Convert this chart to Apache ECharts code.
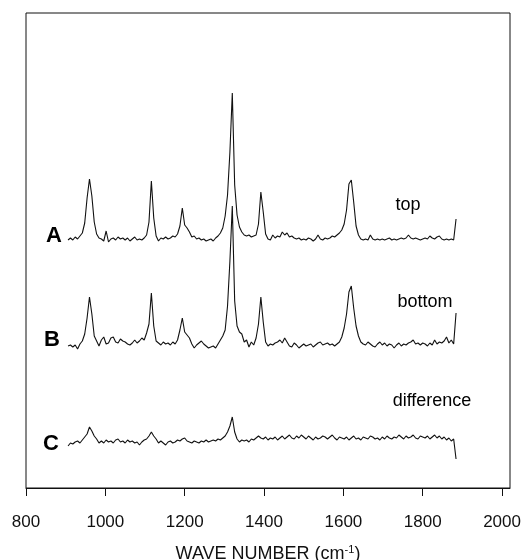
<!DOCTYPE html>
<html>
<head>
<meta charset="utf-8">
<script src="https://cdn.jsdelivr.net/npm/echarts@6/dist/echarts.min.js"></script>
<style>html,body{margin:0;padding:0;background:#fff;}#chart{width:531px;height:560px;}</style>
</head>
<body>
<div id="chart"></div>
<script>
// Wave numbers (cm^-1) at which the spectra were sampled
const waveNumbers = [
  906, 912, 918, 924, 930, 936, 942, 948, 954, 960,
  966, 972, 978, 984, 990, 996, 1002, 1008, 1014, 1020,
  1026, 1032, 1038, 1044, 1050, 1056, 1062, 1068, 1074, 1080,
  1086, 1092, 1098, 1104, 1110, 1116, 1122, 1128, 1134, 1140,
  1146, 1152, 1158, 1164, 1170, 1176, 1182, 1188, 1194, 1200,
  1206, 1212, 1218, 1224, 1230, 1236, 1242, 1248, 1254, 1260,
  1266, 1272, 1278, 1284, 1290, 1296, 1302, 1308, 1314, 1320,
  1326, 1332, 1338, 1344, 1350, 1356, 1362, 1368, 1374, 1380,
  1386, 1392, 1398, 1404, 1410, 1416, 1422, 1428, 1434, 1440,
  1446, 1452, 1458, 1464, 1470, 1476, 1482, 1488, 1494, 1500,
  1506, 1512, 1518, 1524, 1530, 1536, 1542, 1548, 1554, 1560,
  1566, 1572, 1578, 1584, 1590, 1596, 1602, 1608, 1614, 1620,
  1626, 1632, 1638, 1644, 1650, 1656, 1662, 1668, 1674, 1680,
  1686, 1692, 1698, 1704, 1710, 1716, 1722, 1728, 1734, 1740,
  1746, 1752, 1758, 1764, 1770, 1776, 1782, 1788, 1794, 1800,
  1806, 1812, 1818, 1824, 1830, 1836, 1842, 1848, 1854, 1860,
  1866, 1872, 1878, 1884
];

// Spectrum A ("top"), offset intensity (arbitrary units)
const spectrumTop = [
  248, 250, 248, 251, 249, 252, 255, 265, 290, 309,
  292, 266, 254, 250, 249, 247, 257, 246, 249, 250,
  248, 251, 249, 250, 248, 250, 247, 249, 251, 248,
  249, 248, 250, 253, 266, 307, 270, 252, 247, 250,
  249, 251, 249, 250, 252, 251, 254, 262, 280, 263,
  260, 256, 251, 252, 249, 250, 248, 249, 247, 248,
  249, 247, 250, 252, 255, 260, 272, 293, 336, 395,
  303, 273, 261, 256, 253, 252, 253, 251, 252, 253,
  264, 296, 276, 254, 249, 248, 253, 250, 252, 251,
  256, 253, 255, 251, 252, 250, 249, 250, 248, 249,
  248, 250, 249, 247, 249, 253, 249, 248, 250, 249,
  250, 252, 251, 253, 255, 258, 264, 278, 304, 308,
  286, 262, 253, 249, 248, 249, 248, 253, 249, 248,
  249, 248, 249, 248, 249, 250, 248, 249, 248, 249,
  250, 249, 250, 253, 250, 249, 250, 249, 248, 249,
  250, 249, 252, 250, 249, 251, 252, 249, 248, 249,
  248, 249, 248, 269
];

// Spectrum B ("bottom")
const spectrumBottom = [
  142, 143, 141, 143, 139, 144, 147, 154, 170, 191,
  174, 152, 147, 142, 148, 151, 144, 145, 150, 151,
  146, 145, 149, 147, 146, 144, 143, 145, 148, 145,
  147, 150, 148, 155, 164, 195, 162, 147, 145, 143,
  146, 144, 145, 143, 146, 144, 148, 158, 170, 156,
  153, 150, 144, 140, 143, 145, 147, 144, 142, 140,
  141, 142, 140, 144, 148, 152, 158, 182, 227, 282,
  187, 162, 156, 154, 146, 148, 141, 146, 143, 150,
  164, 191, 166, 146, 142, 144, 143, 145, 146, 148,
  145, 150, 146, 142, 141, 145, 143, 140, 142, 144,
  142, 143, 144, 141, 143, 145, 146, 143, 144, 145,
  143, 144, 142, 144, 146, 151, 160, 174, 196, 202,
  180, 162, 152, 146, 144, 143, 146, 144, 142, 141,
  144, 146, 143, 145, 142, 144, 143, 140, 143, 145,
  142, 144, 143, 145, 146, 148, 144, 145, 143, 145,
  144, 142, 145, 143, 148, 144, 146, 145, 147, 151,
  145, 148, 144, 175
];

// Spectrum C ("difference")
const spectrumDifference = [
  42, 45, 44, 46, 47, 45, 48, 51, 54, 61,
  57, 52, 49, 45, 47, 45, 48, 46, 47, 45,
  48, 49, 46, 47, 45, 48, 46, 47, 45, 46,
  43, 46, 48, 49, 52, 56, 52, 49, 45, 47,
  45, 43, 46, 47, 45, 46, 48, 47, 49, 50,
  47, 46, 45, 47, 46, 45, 47, 46, 48, 46,
  47, 48, 47, 49, 48, 50, 52, 56, 62, 71,
  56, 49, 46, 48, 47, 48, 46, 49, 48, 50,
  52, 50, 49, 51, 48, 50, 49, 51, 48, 50,
  52, 49, 51, 53, 50, 49, 52, 50, 53, 51,
  49, 52, 50, 48, 51, 49, 50, 52, 51, 49,
  51, 53, 50, 48, 51, 50, 49, 51, 48, 50,
  52, 49, 50, 48, 51, 50, 49, 52, 51, 49,
  50, 48, 51, 49, 52, 50, 49, 51, 50, 53,
  51, 49, 52, 50, 51, 53, 50, 49, 52, 51,
  50, 52, 49, 51, 53, 50, 52, 49, 51, 48,
  50, 47, 49, 29
];

const xTickValues = [800, 1000, 1200, 1400, 1600, 1800, 2000];
const traceLetters = ['A', 'B', 'C'];
const traceNames = ['top', 'bottom', 'difference'];

const pair = (vals) => waveNumbers.map((w, i) => [w, vals[i]]);
const lineSeries = (vals) => ({
  type: 'line',
  data: pair(vals),
  showSymbol: false,
  symbol: 'none',
  smooth: false,
  lineStyle: { color: '#111', width: 1.1 },
  silent: true,
  animation: false
});

const FONT = '"Liberation Sans", Arial, Helvetica, sans-serif';
const txt = (t, x, y, size, bold, align) => ({
  type: 'text', x: x, y: y, silent: true,
  style: {
    text: t, fill: '#000',
    font: (bold ? 'bold ' : '') + size + 'px ' + FONT,
    align: align || 'center', verticalAlign: 'middle',
    textAlign: align || 'center', textVerticalAlign: 'middle'
  }
});

const chart = echarts.init(document.getElementById('chart'), null, { renderer: 'canvas' });
chart.setOption({
  backgroundColor: '#fff',
  animation: false,
  grid: {
    left: 26, right: 21, top: 13, bottom: 72,
    containLabel: false, outerBoundsMode: 'none',
    show: true, borderColor: '#111', borderWidth: 1, backgroundColor: 'transparent'
  },
  xAxis: {
    type: 'value', min: 800, max: 2020,
    axisLine: { show: true, onZero: false, lineStyle: { color: '#111', width: 1 } },
    axisTick: { show: true, inside: false, length: 8, customValues: xTickValues, lineStyle: { color: '#111' } },
    axisLabel: {
      show: true, customValues: xTickValues, margin: 26,
      fontSize: 17, color: '#111', fontFamily: FONT,
      formatter: (v) => String(v)
    },
    splitLine: { show: false },
    name: 'WAVE NUMBER (cm{sup|-1})',
    nameLocation: 'middle', nameGap: 56,
    nameTextStyle: {
      fontSize: 18, color: '#111', fontFamily: FONT,
      rich: { sup: { fontSize: 11, color: '#111', fontFamily: FONT, padding: [0, 0, 9, 0] } }
    }
  },
  yAxis: { type: 'value', min: 0, max: 475, show: false, splitLine: { show: false } },
  series: [lineSeries(spectrumTop), lineSeries(spectrumBottom), lineSeries(spectrumDifference)],
  graphic: [
    txt(traceLetters[0], 54, 236, 22, true),
    txt(traceLetters[1], 52, 340, 22, true),
    txt(traceLetters[2], 51, 444, 22, true),
    txt(traceNames[0], 408, 205, 18, false),
    txt(traceNames[1], 425, 302, 18, false),
    txt(traceNames[2], 432, 401, 18, false)
  ]
});
</script>
</body>
</html>
